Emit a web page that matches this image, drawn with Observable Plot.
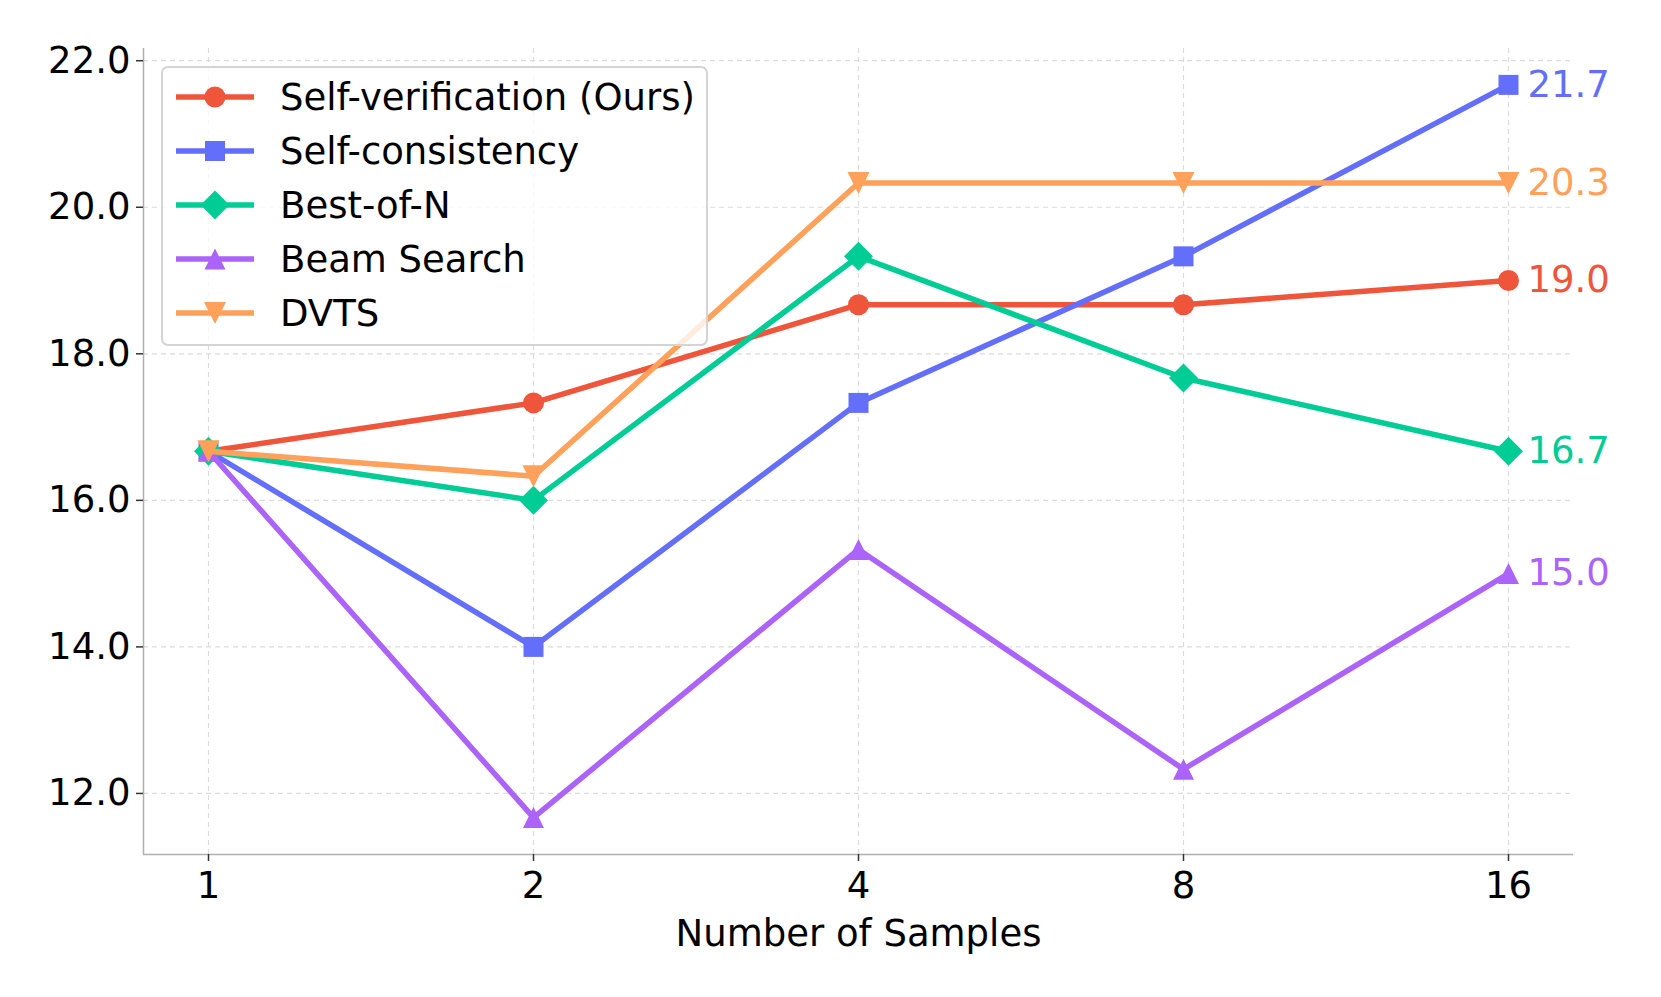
<!DOCTYPE html>
<html>
<head>
<meta charset="utf-8">
<script src="https://cdn.jsdelivr.net/npm/d3@7"></script>
<script src="https://cdn.jsdelivr.net/npm/@observablehq/plot@0.6"></script>
<style>
  html, body { margin: 0; padding: 0; background: #fff; }
  #wrap { position: relative; width: 1661px; height: 997px; font-family: "DejaVu Sans", sans-serif; }
  #legend { position: absolute; left: 161px; top: 66px; width: 543px; height: 276px;
    border: 2px solid #d4d4d4; border-radius: 7px; background: rgba(255,255,255,0.8); box-sizing: content-box; }
  .row { position: absolute; left: 0; height: 40px; display: flex; align-items: center; }
  .row svg { margin-left: 13px; }
  .row span { margin-left: 24px; font-size: 37px; color: #000; white-space: nowrap; }
</style>
</head>
<body>
<div id="wrap"><div id="legend"></div></div>
<script>
const samples = [1, 2, 4, 8, 16];
const seriesNames = ["Self-verification (Ours)", "Self-consistency", "Best-of-N", "Beam Search", "DVTS"];
const selfVerification = [16.67, 17.33, 18.67, 18.67, 19.0];
const selfConsistency = [16.67, 14.0, 17.33, 19.33, 21.67];
const bestOfN = [16.67, 16.0, 19.33, 17.67, 16.67];
const beamSearch = [16.67, 11.67, 15.33, 12.33, 15.0];
const dvts = [16.67, 16.33, 20.33, 20.33, 20.33];
const seriesColors = ["#EF553B", "#636EFA", "#00CC96", "#AB63FA", "#FFA15A"];
const markerNames = ["circle", "square", "diamond", "triangleUp", "triangleDown"];
const yTicks = [12, 14, 16, 18, 20, 22];

const seriesValues = [selfVerification, selfConsistency, bestOfN, beamSearch, dvts];

const symbols = {
  circle: {draw(ctx, size) { const r = Math.sqrt(size / Math.PI); ctx.moveTo(r, 0); ctx.arc(0, 0, r, 0, 2 * Math.PI); }},
  square: {draw(ctx, size) { const r = Math.sqrt(size / Math.PI); ctx.rect(-r, -r, 2 * r, 2 * r); }},
  diamond: {draw(ctx, size) { const r = Math.sqrt(size / Math.PI); ctx.moveTo(0, -r); ctx.lineTo(r, 0); ctx.lineTo(0, r); ctx.lineTo(-r, 0); ctx.closePath(); }},
  triangleUp: {draw(ctx, size) { const r = Math.sqrt(size / Math.PI); ctx.moveTo(0, -r); ctx.lineTo(r, r); ctx.lineTo(-r, r); ctx.closePath(); }},
  triangleDown: {draw(ctx, size) { const r = Math.sqrt(size / Math.PI); ctx.moveTo(0, r); ctx.lineTo(r, -r); ctx.lineTo(-r, -r); ctx.closePath(); }}
};
const markerR = {circle: 10.5, square: 10, diamond: 14.5, triangleUp: 10.5, triangleDown: 11};

const rows = [];
seriesNames.forEach((name, i) => {
  samples.forEach((s, j) => rows.push({series: name, idx: i, x: s, y: seriesValues[i][j]}));
});

const xMin = Math.pow(2, -0.2), xMax = Math.pow(2, 4.2);
const yMin = 11.1667, yMax = 22.1667;

const marks = [
  Plot.gridX(samples, {stroke: "#dcdcdc", strokeOpacity: 1, strokeWidth: 1.2, strokeDasharray: "5,4"}),
  Plot.gridY(yTicks, {stroke: "#dcdcdc", strokeOpacity: 1, strokeWidth: 1.2, strokeDasharray: "5,4"}),
  Plot.ruleX([xMin], {stroke: "#b0b0b0", strokeWidth: 1.5}),
  Plot.ruleY([yMin], {stroke: "#b0b0b0", strokeWidth: 1.5}),
  Plot.axisX(samples, {tickSize: 7, tickPadding: 10, fontSize: 37, tickFormat: d => String(d), label: null, stroke: "#333", strokeWidth: 1.5}),
  Plot.axisY(yTicks, {tickSize: 7, tickPadding: 6, fontSize: 37, tickFormat: d3.format(".1f"), label: null, stroke: "#333", strokeWidth: 1.5})
];
seriesNames.forEach((name, i) => {
  const data = rows.filter(r => r.idx === i);
  const m = markerNames[i];
  marks.push(Plot.line(data, {x: "x", y: "y", stroke: seriesColors[i], strokeWidth: 5.5}));
  marks.push(Plot.dot(data, {x: "x", y: "y", fill: seriesColors[i], stroke: "none", symbol: symbols[m], r: markerR[m]}));
});
seriesNames.forEach((name, i) => {
  const data = rows.filter(r => r.idx === i && r.x === samples[samples.length - 1]);
  marks.push(Plot.text(data, {x: "x", y: "y", text: d => d3.format(".1f")(d.y), fill: seriesColors[i], dx: 19, textAnchor: "start", fontSize: 37}));
});
marks.push(Plot.text(["Number of Samples"], {frameAnchor: "bottom", dy: 91, text: d => d, fontSize: 37, fill: "#000"}));

const chart = Plot.plot({
  width: 1661,
  height: 997,
  marginLeft: 143,
  marginRight: 88,
  marginTop: 48,
  marginBottom: 143,
  style: {fontFamily: "DejaVu Sans", fontSize: "37px", color: "#000", background: "#fff", overflow: "visible"},
  x: {type: "log", base: 2, domain: [xMin, xMax]},
  y: {domain: [yMin, yMax]},
  marks
});
document.getElementById("wrap").prepend(chart);

// legend
const legend = document.getElementById("legend");
seriesNames.forEach((name, i) => {
  const row = document.createElement("div");
  row.className = "row";
  row.style.top = (9 + i * 54) + "px";
  const ns = "http://www.w3.org/2000/svg";
  const svg = document.createElementNS(ns, "svg");
  svg.setAttribute("width", 80); svg.setAttribute("height", 40);
  const line = document.createElementNS(ns, "line");
  line.setAttribute("x1", 0); line.setAttribute("x2", 78); line.setAttribute("y1", 20); line.setAttribute("y2", 20);
  line.setAttribute("stroke", seriesColors[i]); line.setAttribute("stroke-width", 5.5);
  svg.appendChild(line);
  const m = markerNames[i];
  const p = d3.path();
  symbols[m].draw(p, markerR[m] * markerR[m] * Math.PI);
  const path = document.createElementNS(ns, "path");
  path.setAttribute("d", p.toString());
  path.setAttribute("transform", "translate(39,20)");
  path.setAttribute("fill", seriesColors[i]);
  svg.appendChild(path);
  row.appendChild(svg);
  const span = document.createElement("span");
  span.textContent = name;
  row.appendChild(span);
  legend.appendChild(row);
});
</script>
</body>
</html>
